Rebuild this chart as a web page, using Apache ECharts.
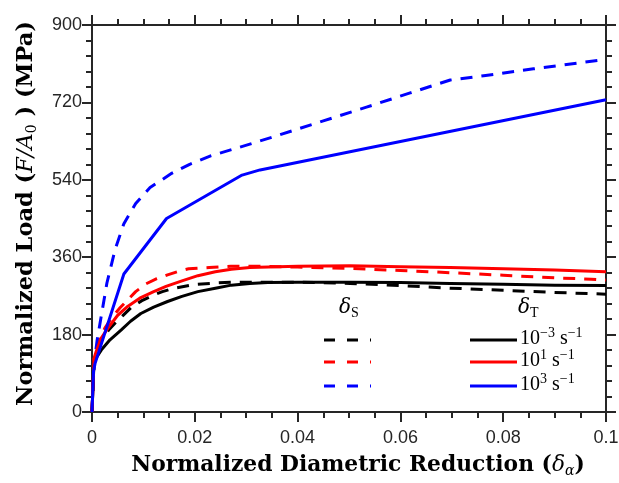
<!DOCTYPE html>
<html>
<head>
<meta charset="utf-8">
<script src="https://cdn.jsdelivr.net/npm/echarts@6/dist/echarts.min.js"></script>
<style>
  html, body { margin: 0; padding: 0; background: #ffffff; }
  #chart { width: 619px; height: 483px; }
</style>
</head>
<body>
<div id="chart"></div>
<script>
// Normalized diametric reduction (x) and normalized load in MPa (y) per loading case.
// Dashed = delta_S, solid = delta_T; colour = strain rate.
const blackDashedX = [0, 0.0004, 0.0010, 0.0020, 0.0032, 0.0046, 0.0060, 0.0077, 0.0097, 0.0118, 0.0137, 0.0157, 0.0196, 0.0240, 0.0278, 0.0320, 0.0400, 0.0502, 0.0600, 0.0697, 0.0800, 0.0900, 0.1];
const blackDashedY = [0, 122, 145, 170, 190, 208, 224, 244, 259, 271, 280, 287, 296, 300, 302, 302, 302, 299, 294, 288, 283, 278, 274];

const redDashedX = [0, 0.0004, 0.0012, 0.0025, 0.0040, 0.0055, 0.0066, 0.0085, 0.0105, 0.0126, 0.0147, 0.0168, 0.0188, 0.0228, 0.0270, 0.0323, 0.0400, 0.0502, 0.0600, 0.0697, 0.0800, 0.0900, 0.0971, 0.1];
const redDashedY = [0, 128, 160, 195, 222, 243, 256, 280, 298, 310, 319, 327, 333, 336, 339, 339, 337, 334, 329, 324, 318, 312, 309, 307];

const blueDashedX = [0, 0.0004, 0.0010, 0.0019, 0.0029, 0.0045, 0.0062, 0.0085, 0.0113, 0.0155, 0.0190, 0.0232, 0.0274, 0.0307, 0.0366, 0.0450, 0.0534, 0.0619, 0.0697, 0.0762, 0.0859, 0.1];
const blueDashedY = [0, 110, 167, 230, 300, 378, 438, 485, 522, 555, 576, 596, 611, 623, 645, 677, 709, 742, 772, 782, 798, 820];

const blackSolidX = [0, 0.0004, 0.0018, 0.0035, 0.0057, 0.0075, 0.0095, 0.0120, 0.0147, 0.0175, 0.0206, 0.0240, 0.0271, 0.0307, 0.0342, 0.0400, 0.0502, 0.0600, 0.0697, 0.0800, 0.0900, 0.1];
const blackSolidY = [0, 118, 144, 168, 191, 211, 229, 244, 257, 269, 280, 288, 295, 299, 301, 302, 302, 301, 299, 297, 295, 294];

const redSolidX = [0, 0.0004, 0.0008, 0.0018, 0.0031, 0.0050, 0.0070, 0.0095, 0.0120, 0.0144, 0.0175, 0.0206, 0.0240, 0.0271, 0.0307, 0.0400, 0.0502, 0.0600, 0.0697, 0.0800, 0.0900, 0.1];
const redSolidY = [0, 125, 140, 172, 195, 225, 246, 266, 280, 292, 305, 317, 326, 332, 336, 339, 340, 338, 336, 333, 330, 326];

const blueSolidX = [0, 0.0003, 0.0006, 0.0062, 0.0145, 0.0292, 0.0327, 0.1];
const blueSolidY = [0, 95, 113, 321, 450, 551, 563, 726];

const xTicks = [0, 0.02, 0.04, 0.06, 0.08, 0.1];
const yTicks = [0, 180, 360, 540, 720, 900];
const rateLabels = ['10{sup|\u22123} s{sup|\u22121}', '10{sup|1} s{sup|\u22121}', '10{sup|3} s{sup|\u22121}'];

const zip = (xs, ys) => xs.map((x, i) => [x, ys[i]]);

const AXIS = '#262626';
const COLORS = ['#000000', '#ff0000', '#0000ff'];
const DASH = [12, 9];
const LINE_W = 3;

const chart = echarts.init(document.getElementById('chart'), null, { renderer: 'canvas' });

function frameAxis(extra) {
  return Object.assign({
    axisLine: { show: true, onZero: false, lineStyle: { color: AXIS, width: 2 } },
    axisTick: { show: true, inside: false, length: 10, lineStyle: { color: AXIS, width: 2 } },
    splitLine: { show: false },
    minorSplitLine: { show: false }
  }, extra);
}

const serif = 'DejaVu Serif';
const xMin = xTicks[0], xMax = xTicks[xTicks.length - 1], xStep = xTicks[1] - xTicks[0];
const yMin = yTicks[0], yMax = yTicks[yTicks.length - 1], yStep = yTicks[1] - yTicks[0];

const tickLabel = { color: AXIS, fontFamily: 'Liberation Sans', fontSize: 18 };

function line(name, xs, ys, color, dashed) {
  return {
    name: name,
    type: 'line',
    data: zip(xs, ys),
    showSymbol: false,
    symbol: 'none',
    smooth: false,
    animation: false,
    xAxisIndex: 0,
    yAxisIndex: 0,
    lineStyle: { color: color, width: LINE_W, type: dashed ? DASH : 'solid', cap: 'butt', join: 'round' }
  };
}

// legend keys (plain graphics): dashed column for delta_S, solid column with rate labels for delta_T
const legendRows = [340, 362, 386];
const legendGraphics = [];
function deltaLabel(left, sub) {
  return {
    type: 'text', left: left, top: 298,
    style: {
      text: '{i|\u03b4}{s|' + sub + '}',
      rich: {
        i: { fontFamily: serif, fontStyle: 'italic', fontSize: 20, fill: '#000', lineHeight: 24 },
        s: { fontFamily: 'Liberation Serif', fontSize: 14, fill: '#000', verticalAlign: 'bottom', lineHeight: 13 }
      }
    }
  };
}
legendGraphics.push(deltaLabel(339, 'S'));
legendGraphics.push(deltaLabel(518, 'T'));
legendRows.forEach((y, i) => {
  legendGraphics.push({
    type: 'line', shape: { x1: 324, y1: y, x2: 371, y2: y },
    style: { stroke: COLORS[i], lineWidth: LINE_W, lineDash: [11, 12] }
  });
  legendGraphics.push({
    type: 'line', shape: { x1: 470, y1: y, x2: 517, y2: y },
    style: { stroke: COLORS[i], lineWidth: LINE_W }
  });
  legendGraphics.push({
    type: 'text', x: 520, y: y - 14,
    style: {
      text: rateLabels[i],
      rich: {
        sup: { fontFamily: 'Liberation Serif', fontSize: 14, fill: '#000', verticalAlign: 'top', lineHeight: 14 }
      },
      fontFamily: 'Liberation Serif', fontSize: 20, fill: '#000', lineHeight: 26
    }
  });
});

const minorX = { show: true, splitNumber: 4, length: 6, lineStyle: { color: AXIS, width: 2 } };
const minorY = { show: true, splitNumber: 5, length: 6, lineStyle: { color: AXIS, width: 2 } };

const option = {
  backgroundColor: '#ffffff',
  animation: false,
  grid: { left: 92, right: 13, top: 25, bottom: 71, containLabel: false, outerBoundsMode: 'none' },
  xAxis: [
    frameAxis({
      type: 'value', position: 'bottom', min: xMin, max: xMax, interval: xStep,
      minorTick: minorX,
      axisLabel: Object.assign({ margin: 17 }, tickLabel),
      name: '{b|Normalized Diametric Reduction (}{i|\u03b4}{s|\u03b1}{b|)}',
      nameLocation: 'middle', nameGap: 40,
      nameTextStyle: {
        padding: [0, 0, 0, 18],
        rich: {
          b: { fontFamily: serif, fontWeight: 'bold', fontSize: 21.8, color: '#000', lineHeight: 26 },
          i: { fontFamily: serif, fontStyle: 'italic', fontSize: 21.8, color: '#000', lineHeight: 26 },
          s: { fontFamily: serif, fontStyle: 'italic', fontSize: 14, color: '#000', verticalAlign: 'bottom', lineHeight: 15 }
        }
      }
    }),
    frameAxis({
      type: 'value', position: 'top', min: xMin, max: xMax, interval: xStep,
      minorTick: minorX,
      axisLabel: { show: false }
    })
  ],
  yAxis: [
    frameAxis({
      type: 'value', position: 'left', min: yMin, max: yMax, interval: yStep,
      minorTick: minorY,
      axisLabel: Object.assign({ margin: 10 }, tickLabel),
      name: '{b|Normalized Load (}{i|F/A}{s|0}{b| ) (MPa)}',
      nameLocation: 'middle', nameGap: 53, nameRotate: 90,
      nameTextStyle: {
        padding: [0, 0, 0, 10],
        rich: {
          b: { fontFamily: serif, fontWeight: 'bold', fontSize: 22.5, color: '#000', lineHeight: 26 },
          i: { fontFamily: serif, fontStyle: 'italic', fontSize: 22.5, color: '#000', lineHeight: 26 },
          s: { fontFamily: serif, fontSize: 14, color: '#000', verticalAlign: 'bottom', lineHeight: 15 }
        }
      }
    }),
    frameAxis({
      type: 'value', position: 'right', min: yMin, max: yMax, interval: yStep,
      minorTick: minorY,
      axisLabel: { show: false }
    })
  ],
  series: [
    line('\u03b4S 10^-3', blackDashedX, blackDashedY, COLORS[0], true),
    line('\u03b4S 10^1', redDashedX, redDashedY, COLORS[1], true),
    line('\u03b4S 10^3', blueDashedX, blueDashedY, COLORS[2], true),
    line('\u03b4T 10^-3', blackSolidX, blackSolidY, COLORS[0], false),
    line('\u03b4T 10^1', redSolidX, redSolidY, COLORS[1], false),
    line('\u03b4T 10^3', blueSolidX, blueSolidY, COLORS[2], false)
  ],
  graphic: legendGraphics
};

chart.setOption(option);
</script>
</body>
</html>
